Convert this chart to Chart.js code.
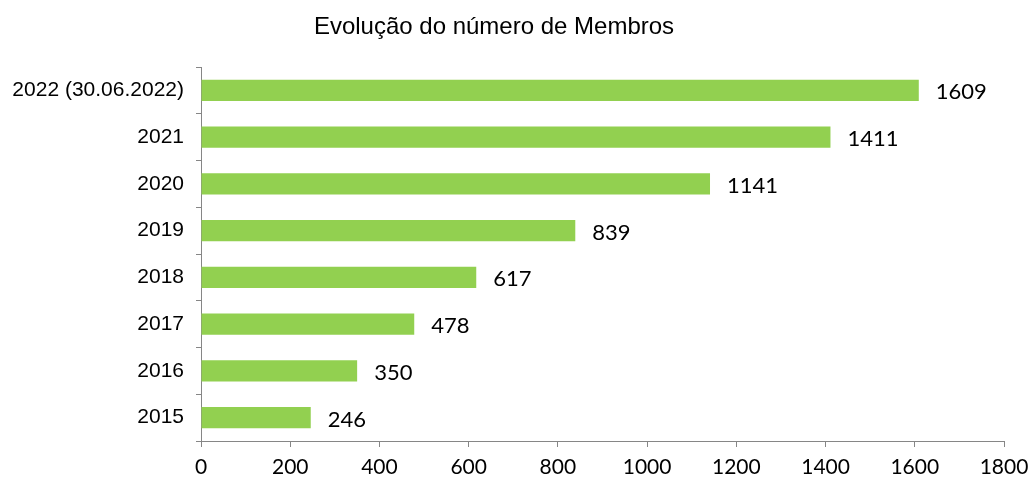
<!DOCTYPE html>
<html>
<head>
<meta charset="utf-8">
<script src="https://cdn.jsdelivr.net/npm/chart.js@4/dist/chart.umd.min.js"></script>
<style>
  html, body { margin: 0; padding: 0; background: #fff; }
  #wrap { width: 1033px; height: 486px; }
</style>
</head>
<body>
<div id="wrap"><canvas id="chart"></canvas></div>
<script>
const chartTitle = 'Evolução do número de Membros';
const years = ['2022 (30.06.2022)', '2021', '2020', '2019', '2018', '2017', '2016', '2015'];
const members = [1609, 1411, 1141, 839, 617, 478, 350, 246];
const xTicks = [0, 200, 400, 600, 800, 1000, 1200, 1400, 1600, 1800];

const axisGrey = '#868686';

// title drawn by hand so it can sit where the original has it
const titlePlugin = {
  id: 'titleText',
  afterDraw(chart) {
    const ctx = chart.ctx;
    ctx.save();
    ctx.font = '24px "Liberation Sans", Arial, sans-serif';
    ctx.fillStyle = '#000';
    ctx.textAlign = 'center';
    ctx.textBaseline = 'middle';
    ctx.fillText(chartTitle, 494, 27);
    ctx.restore();
  }
};

// value labels at the end of each bar
const valueLabels = {
  id: 'valueLabels',
  afterDatasetsDraw(chart) {
    const ctx = chart.ctx;
    const meta = chart.getDatasetMeta(0);
    ctx.save();
    ctx.font = '22px Lato, "Open Sans", sans-serif';
    ctx.fillStyle = '#000';
    ctx.textAlign = 'left';
    ctx.textBaseline = 'middle';
    meta.data.forEach((bar, i) => {
      ctx.fillText(String(members[i]), bar.x + 17, bar.y + 2);
    });
    ctx.restore();
  }
};

const ctx = document.getElementById('chart').getContext('2d');
new Chart(ctx, {
  type: 'bar',
  data: {
    labels: years,
    datasets: [{
      data: members,
      backgroundColor: '#92D050',
      barPercentage: 0.45,
      categoryPercentage: 1
    }]
  },
  options: {
    indexAxis: 'y',
    responsive: true,
    maintainAspectRatio: false,
    animation: false,
    layout: { padding: { top: 67, right: 29, left: 0, bottom: 0 } },
    plugins: {
      legend: { display: false },
      title: { display: false },
      tooltip: { enabled: false }
    },
    scales: {
      x: {
        min: 0,
        max: 1800,
        afterBuildTicks(scale) {
          scale.ticks = xTicks.map(v => ({ value: v }));
        },
        afterFit(scale) {
          scale.height = 45;
          scale.paddingLeft = 0;
          scale.paddingRight = 0;
        },
        grid: {
          drawOnChartArea: false,
          drawTicks: true,
          tickLength: 6,
          color: axisGrey
        },
        border: { color: axisGrey, width: 1 },
        ticks: {
          color: '#000',
          font: { family: 'Lato, "Open Sans", sans-serif', size: 21 },
          padding: 8,
          maxRotation: 0,
          callback: v => String(v)
        }
      },
      y: {
        afterFit(scale) { scale.width = 201; },
        grid: {
          offset: true,
          drawOnChartArea: false,
          drawTicks: true,
          tickLength: 5,
          color: axisGrey
        },
        border: { color: axisGrey, width: 1 },
        ticks: {
          color: '#000',
          font: { family: '"Liberation Sans", Arial, sans-serif', size: 21 },
          padding: 12
        }
      }
    }
  },
  plugins: [titlePlugin, valueLabels]
});
</script>
</body>
</html>
